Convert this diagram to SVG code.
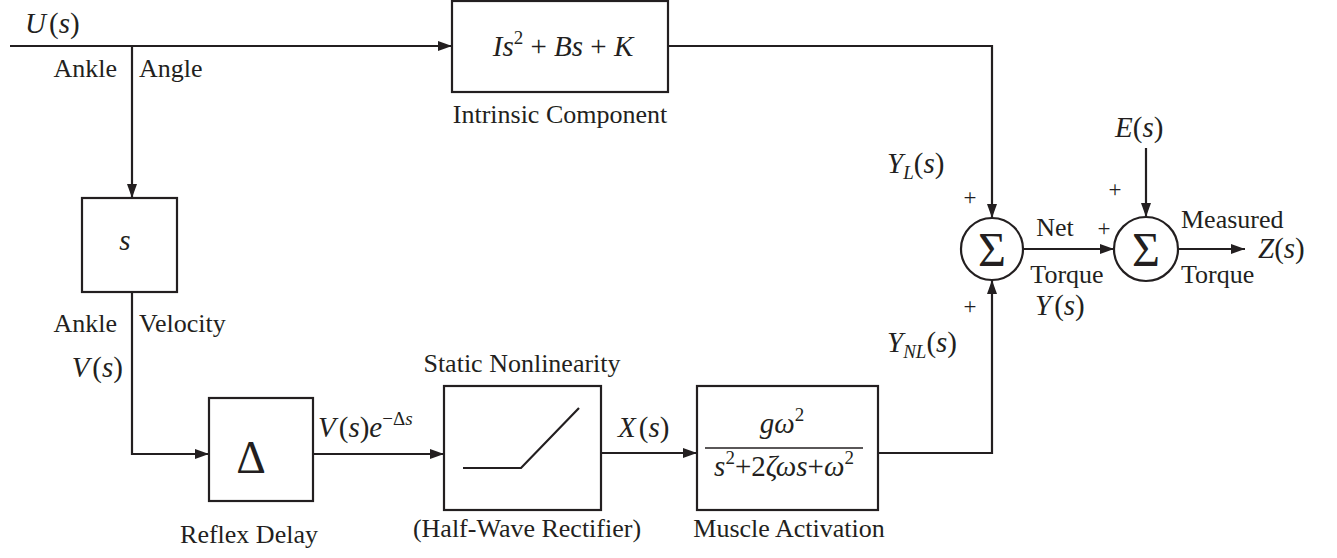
<svg xmlns="http://www.w3.org/2000/svg" width="1337" height="558" viewBox="0 0 1337 558">
<style>
.box{fill:#fff;stroke:#231f20;stroke-width:2.2}
.ln{fill:none;stroke:#231f20;stroke-width:2.2}
text{font-family:'Liberation Serif','DejaVu Serif',serif;fill:#231f20}
.t{font-size:26px}
.m{font-size:29px;font-style:italic}
.r{font-style:normal}
.sm{font-size:19px}
.pl{font-size:23px}
</style>
<defs>
<marker id="ar" markerUnits="userSpaceOnUse" markerWidth="16" markerHeight="12" refX="14" refY="5" orient="auto">
<path d="M0,0 L14,5 L0,10 z" fill="#231f20"/>
</marker>
</defs>
<rect width="1337" height="558" fill="#fff"/>
<g id="connectors">
<path class="ln" d="M10,46 H452" marker-end="url(#ar)"/>
<path class="ln" d="M132,46 V198" marker-end="url(#ar)"/>
<path class="ln" d="M668,46 H992 V218" marker-end="url(#ar)"/>
<path class="ln" d="M132,292 V454 H209" marker-end="url(#ar)"/>
<path class="ln" d="M313,454 H444" marker-end="url(#ar)"/>
<path class="ln" d="M601,453 H697" marker-end="url(#ar)"/>
<path class="ln" d="M878,453 H992 V280" marker-end="url(#ar)"/>
<path class="ln" d="M1023,249 H1114" marker-end="url(#ar)"/>
<path class="ln" d="M1146,148 V217" marker-end="url(#ar)"/>
<path class="ln" d="M1178,249 H1245" marker-end="url(#ar)"/>
</g>
<g id="labels">
<text class="m" x="25" y="33">U<tspan class="r" dx="3">(</tspan>s<tspan class="r">)</tspan></text>
<text class="t" x="117" y="77" text-anchor="end">Ankle</text>
<text class="t" x="139" y="77">Angle</text>
<text class="t" x="117" y="332" text-anchor="end">Ankle</text>
<text class="t" x="139" y="332">Velocity</text>
<text class="m" x="123" y="377" text-anchor="end">V<tspan class="r" dx="3">(</tspan>s<tspan class="r">)</tspan></text>
<text class="m" x="318" y="437">V<tspan class="r" dx="3">(</tspan>s<tspan class="r">)</tspan>e<tspan class="r sm" dy="-12">−Δ</tspan><tspan class="sm">s</tspan></text>
<text class="m" x="618" y="437">X<tspan class="r" dx="3">(</tspan>s<tspan class="r">)</tspan></text>
<text class="m" x="887" y="173">Y<tspan class="sm" dy="6">L</tspan><tspan class="r" dy="-6">(</tspan>s<tspan class="r">)</tspan></text>
<text class="m" x="887" y="352">Y<tspan class="sm" dy="6">NL</tspan><tspan class="r" dy="-6">(</tspan>s<tspan class="r">)</tspan></text>
<text class="m" x="1115" y="137">E<tspan class="r">(</tspan>s<tspan class="r">)</tspan></text>
<text class="m" x="1258" y="258">Z<tspan class="r">(</tspan>s<tspan class="r">)</tspan></text>
<text class="t" x="1055" y="236" text-anchor="middle">Net</text>
<text class="t" x="1067" y="283" text-anchor="middle">Torque</text>
<text class="m" x="1035" y="315">Y<tspan class="r" dx="3">(</tspan>s<tspan class="r">)</tspan></text>
<text class="t" x="1181" y="228">Measured</text>
<text class="t" x="1181" y="283">Torque</text>
<text class="t pl" x="970" y="205" text-anchor="middle">+</text>
<text class="t pl" x="970" y="314" text-anchor="middle">+</text>
<text class="t pl" x="1115" y="197" text-anchor="middle">+</text>
<text class="t pl" x="1104" y="236" text-anchor="middle">+</text>
</g>
<g id="intrinsic">
<rect class="box" x="452" y="1" width="216" height="91"/>
<text class="m" x="563" y="56" text-anchor="middle">Is<tspan class="r sm" dy="-12">2</tspan><tspan class="r" dy="12"> + </tspan>Bs<tspan class="r"> + </tspan>K</text>
<text class="t" x="560" y="123" text-anchor="middle">Intrinsic Component</text>
</g>
<g id="derivative">
<rect class="box" x="82" y="198" width="95" height="94"/>
<text class="m" x="125" y="250" text-anchor="middle">s</text>
</g>
<g id="delay">
<rect class="box" x="209" y="398" width="104" height="103"/>
<text class="t" x="251" y="473" text-anchor="middle" style="font-size:46px">Δ</text>
<text class="t" x="249" y="543" text-anchor="middle">Reflex Delay</text>
</g>
<g id="nonlinearity">
<rect class="box" x="444" y="386" width="157" height="124"/>
<path class="ln" d="M463,468 H521 L579,408"/>
<text class="t" x="522" y="372" text-anchor="middle">Static Nonlinearity</text>
<text class="t" x="527" y="537" text-anchor="middle">(Half-Wave Rectifier)</text>
</g>
<g id="muscle">
<rect class="box" x="697" y="386" width="181" height="124"/>
<text class="m" x="782" y="433" text-anchor="middle">gω<tspan class="r sm" dy="-12">2</tspan></text>
<line class="ln" x1="705" y1="448" x2="863" y2="448" style="stroke-width:1.6"/>
<text class="m" x="784" y="476" text-anchor="middle">s<tspan class="r sm" dy="-12">2</tspan><tspan class="r" dy="12">+2</tspan>ζωs<tspan class="r">+</tspan>ω<tspan class="r sm" dy="-12">2</tspan></text>
<text class="t" x="789" y="537" text-anchor="middle">Muscle Activation</text>
</g>
<g id="sum1">
<circle class="box" cx="992" cy="249" r="31"/>
<text class="t" x="992" y="266" text-anchor="middle" style="font-size:48px">Σ</text>
</g>
<g id="sum2">
<circle class="box" cx="1146" cy="249" r="32"/>
<text class="t" x="1146" y="266" text-anchor="middle" style="font-size:48px">Σ</text>
</g>
</svg>
